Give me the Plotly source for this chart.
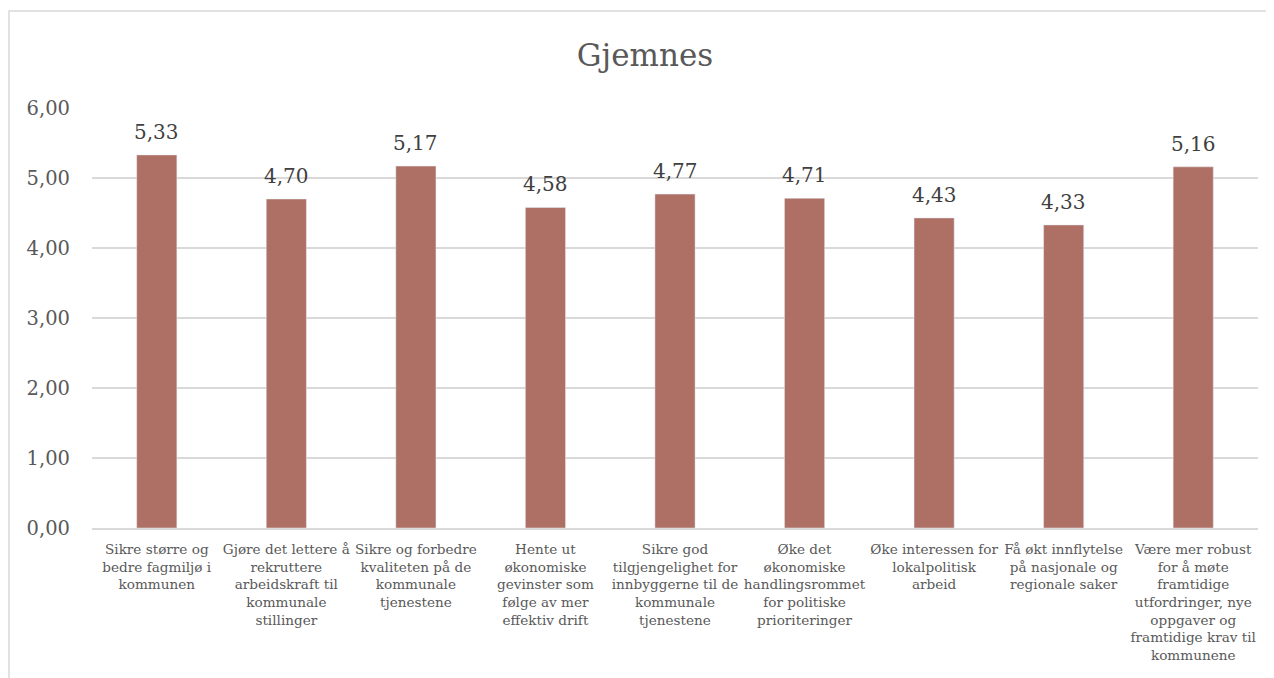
import plotly.graph_objects as go

# categories (line breaks as in the original)
categories = [
    "Sikre større og<br>bedre fagmiljø i<br>kommunen",
    "Gjøre det lettere å<br>rekruttere<br>arbeidskraft til<br>kommunale<br>stillinger",
    "Sikre og forbedre<br>kvaliteten på de<br>kommunale<br>tjenestene",
    "Hente ut<br>økonomiske<br>gevinster som<br>følge av mer<br>effektiv drift",
    "Sikre god<br>tilgjengelighet for<br>innbyggerne til de<br>kommunale<br>tjenestene",
    "Øke det<br>økonomiske<br>handlingsrommet<br>for politiske<br>prioriteringer",
    "Øke interessen for<br>lokalpolitisk<br>arbeid",
    "Få økt innflytelse<br>på nasjonale og<br>regionale saker",
    "Være mer robust<br>for å møte<br>framtidige<br>utfordringer, nye<br>oppgaver og<br>framtidige krav til<br>kommunene",
]
values = [5.33, 4.70, 5.17, 4.58, 4.77, 4.71, 4.43, 4.33, 5.16]
y_ticks = [0, 1, 2, 3, 4, 5, 6]

serif = "DejaVu Serif"
grey = "#595959"

fig = go.Figure()
fig.add_trace(go.Bar(
    x=categories, y=values,
    marker_color="#AE7065",
    width=0.31,
    hoverinfo="skip",
))

# value labels above the bars
for cat, v in zip(categories, values):
    fig.add_annotation(x=cat, y=v, text=f"{v:.2f}".replace(".", ","),
                       showarrow=False, yanchor="bottom", yshift=9,
                       font=dict(family=serif, size=20, color="#404040"))

fig.update_layout(
    width=1274, height=678,
    margin=dict(l=84, r=24, t=100, b=158),
    paper_bgcolor="white", plot_bgcolor="white",
    separators=", ",
    title=dict(text="Gjemnes", x=0.5, xanchor="center", y=0.93, yanchor="middle",
               font=dict(family=serif, size=31, color=grey)),
    showlegend=False,
)
fig.update_xaxes(
    tickfont=dict(family=serif, size=13.6, color=grey),
    showline=True, linecolor="#D9D9D9", linewidth=1.5,
    ticks="", tickangle=0, ticklabelstandoff=8,
)
fig.update_yaxes(
    range=[0, 6], tickvals=y_ticks, tickformat=".2f",
    tickfont=dict(family=serif, size=19.5, color=grey),
    showgrid=True, gridcolor="#D9D9D9", gridwidth=1.5,
    zeroline=False, ticklabelstandoff=21,
)

# chart frame (light grey border starting near the top-left corner)
fig.add_shape(type="rect", xref="paper", yref="paper",
              x0=-0.0712, x1=1.2, y0=-0.5, y1=1.231,
              line=dict(color="#D9D9D9", width=1.5), layer="below")

fig.write_html("out.html")
